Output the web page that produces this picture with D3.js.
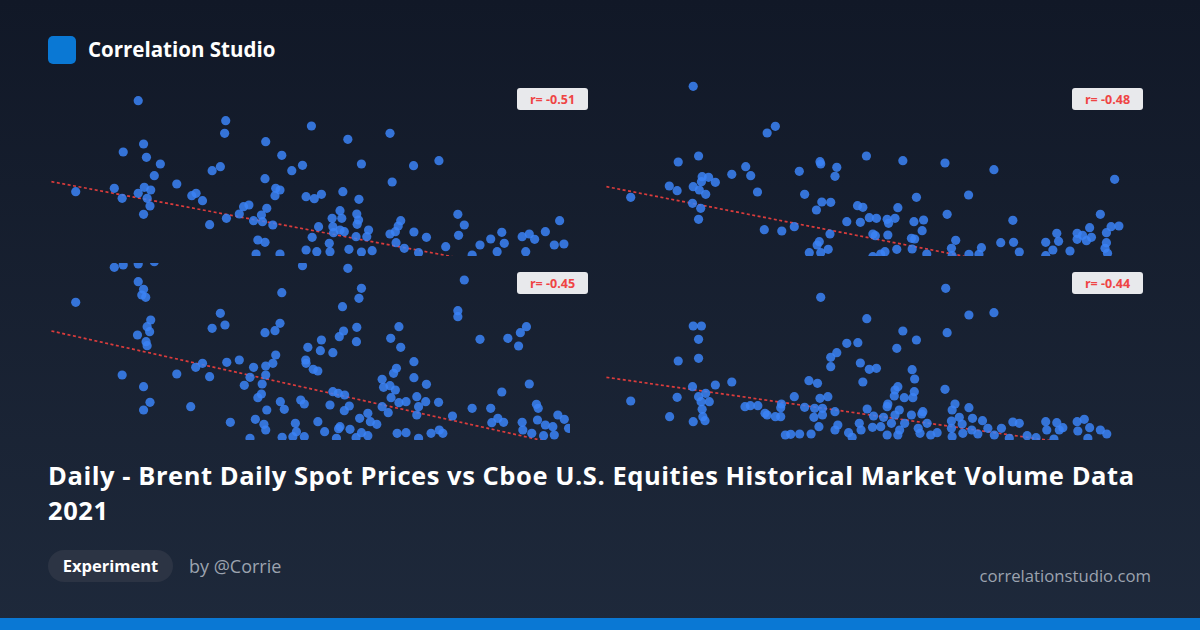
<!DOCTYPE html>
<html><head><meta charset="utf-8">
<script src="https://cdn.jsdelivr.net/npm/d3@7"></script>
<style>body{margin:0;background:#111827}svg{display:block}</style>
</head><body><svg id="c" width="1200" height="630"></svg>
<script>
// Values in picture-read units (x: 0..1568 across panel, y: 0..540 up)
const rValues = [-0.51, -0.48, -0.45, -0.44];
const titleLines = ["Daily - Brent Daily Spot Prices vs Cboe U.S. Equities Historical Market Volume Data","2021"];
const tlPts = [[275,62],[520,122],[517,160],[760,138],[980,160],[862,178],[632,185],[290,192],[233,216],[298,232],[337,252],[677,226],[735,256],[705,272],[900,252],[1046,257],[1117,242],[482,272],[505,260],[320,287],[630,296],[986,306],[383,312],[100,335],[208,325],[275,340],[292,322],[310,330],[230,355],[300,355],[308,378],[290,403],[425,347],[437,340],[455,362],[660,325],[672,330],[658,347],[745,350],[768,356],[788,343],[848,335],[893,358],[570,380],[585,375],[635,385],[558,402],[522,415],[475,434],[620,405],[598,422],[652,435],[623,425],[840,392],[845,415],[818,415],[887,402],[892,420],[888,433],[780,440],[820,440],[840,450],[822,458],[852,455],[762,472],[610,480],[630,487],[1010,422],[1003,438],[995,455],[980,462],[920,450],[915,470],[885,470],[1047,456],[1082,472],[1170,403],[1188,435],[1172,466],[1293,457],[1262,477],[1300,490],[1350,470],[1370,462],[1385,478],[1415,455],[1455,422],[1467,492],[1440,495],[1232,495],[1136,500],[997,488],[1020,505],[930,512],[900,516],[865,508],[810,490],[812,515],[775,515],[745,510],[605,522],[672,522],[1060,518],[1210,525],[1280,515],[1360,515]];
const trPts = [[275,19],[505,139],[482,159],[290,228],[233,246],[630,245],[632,252],[760,228],[862,242],[980,249],[1117,269],[677,262],[672,289],[572,274],[422,260],[436,287],[383,283],[300,290],[318,292],[298,305],[337,307],[208,318],[230,332],[275,320],[292,330],[310,343],[100,352],[455,336],[587,343],[1455,298],[1046,345],[900,352],[848,383],[735,377],[750,382],[635,366],[660,367],[620,390],[273,370],[296,385],[290,418],[986,403],[1415,403],[1170,421],[705,425],[743,427],[768,413],[788,415],[818,418],[822,430],[840,415],[893,425],[920,420],[916,452],[474,449],[523,453],[558,440],[658,462],[778,462],[785,467],[820,465],[886,475],[895,477],[1010,481],[998,505],[1082,503],[1136,488],[1172,487],[1188,516],[1047,523],[1075,523],[929,522],[888,507],[845,508],[812,515],[800,522],[778,530],[628,485],[622,495],[653,508],[632,518],[600,518],[1262,487],[1298,484],[1293,460],[1282,510],[1262,527],[1330,513],[1350,460],[1365,466],[1385,443],[1390,472],[1376,482],[1350,478],[1432,458],[1445,440],[1467,438],[1432,488],[1428,505],[1435,520],[1000,527]];
const blPts = [[208,22],[233,15],[275,12],[320,5],[735,17],[862,25],[1188,60],[275,65],[290,88],[285,105],[296,112],[100,127],[677,98],[900,85],[893,115],[847,140],[1170,152],[1170,170],[505,160],[518,195],[482,205],[310,180],[300,200],[307,215],[273,225],[297,245],[300,257],[630,218],[658,212],[672,190],[850,213],[838,230],[887,202],[886,245],[788,240],[750,262],[785,272],[820,278],[1005,200],[982,235],[1010,262],[1232,238],[1310,235],[1345,218],[1362,200],[1340,258],[660,285],[652,310],[632,318],[598,322],[558,300],[523,307],[455,310],[436,322],[383,342],[230,345],[475,350],[588,352],[572,376],[622,372],[632,345],[744,300],[745,310],[765,328],[778,333],[1047,305],[998,325],[990,340],[958,358],[1047,353],[1082,373],[962,382],[980,377],[995,390],[1370,372],[1293,396],[290,380],[308,427],[290,450],[422,440],[620,402],[610,413],[635,450],[673,425],[684,448],[730,420],[740,432],[812,435],[820,395],[835,400],[853,405],[866,438],[852,452],[983,413],[958,440],[975,458],[1005,428],[1025,425],[1055,410],[1060,440],[1080,425],[1116,427],[1055,465],[1155,468],[1210,445],[1262,445],[1282,475],[1298,487],[1265,488],[1390,433],[1395,445],[1393,480],[1450,465],[1468,478],[1480,505],[1350,487],[1352,510],[1377,520],[1415,495],[1436,500],[1440,525],[1410,527],[895,475],[918,460],[925,485],[943,493],[778,485],[840,500],[868,508],[836,506],[797,515],[715,490],[718,515],[708,530],[740,530],[678,532],[632,510],[627,493],[603,478],[533,487],[588,535],[900,518],[918,527],[1000,520],[1025,518],[1060,535],[1095,520],[1118,510],[1128,520],[830,535],[885,533]];
const brPts = [[632,112],[982,85],[1047,165],[1117,158],[761,176],[275,198],[298,198],[290,238],[290,295],[233,303],[986,218],[862,213],[900,240],[705,250],[736,248],[845,265],[677,278],[660,292],[660,320],[743,309],[768,328],[788,325],[888,329],[895,357],[750,366],[599,362],[623,370],[383,366],[337,375],[273,380],[310,400],[290,410],[297,425],[320,425],[230,412],[100,423],[980,388],[840,390],[848,380],[838,408],[866,413],[890,413],[894,395],[558,410],[630,415],[652,410],[420,440],[435,437],[456,437],[522,432],[520,443],[587,442],[615,445],[637,445],[672,455],[762,447],[820,432],[818,440],[852,450],[840,465],[918,455],[915,462],[886,465],[1008,432],[1000,450],[1047,443],[300,448],[302,470],[308,482],[209,470],[275,485],[476,460],[482,465],[505,470],[520,470],[613,472],[637,465],[780,468],[808,472],[830,490],[867,490],[930,490],[998,483],[1020,472],[1028,492],[1057,475],[1085,482],[1100,505],[1138,505],[1170,486],[1188,490],[1262,485],[1293,488],[1310,503],[1350,485],[1370,478],[1385,503],[1415,510],[1433,522],[1352,513],[1265,510],[1300,510],[627,500],[680,495],[672,510],[740,490],[745,510],[777,502],[800,500],[853,510],[848,525],[905,505],[910,520],[940,525],[958,518],[998,505],[1030,520],[1055,510],[1072,522],[1118,525],[1210,527],[1235,533],[533,525],[548,523],[573,522],[605,522],[710,518],[720,532],[818,525],[1000,530],[1160,535],[1285,537],[1380,535]];
const trends = [[[32,305],[1145,528]],[[32,320],[1030,528]],[[32,213],[1380,535]],[[32,352],[1230,535]]];
const panelOrigins = [[40,80],[595,80],[40,260],[595,260]];
const clips = [[50,80,520,176],[605,80,520,176],[50,263,520,177],[605,263,520,177]];
const allPts = [tlPts,trPts,blPts,brPts];

const svg = d3.select("#c");
const defs = svg.append("defs");
const g = defs.append("linearGradient").attr("id","bg").attr("x1",0).attr("y1",0).attr("x2",0).attr("y2",1);
g.append("stop").attr("offset","0%").attr("stop-color","#111827");
g.append("stop").attr("offset","100%").attr("stop-color","#1e293b");
svg.append("rect").attr("width",1200).attr("height",630).attr("fill","url(#bg)");

allPts.forEach((pts,i)=>{
  const [ox,oy] = panelOrigins[i];
  const x = d3.scaleLinear().domain([0,1568]).range([ox,ox+560]);
  const y = d3.scaleLinear().domain([0,540]).range([oy+180,oy]);
  const c = clips[i];
  defs.append("clipPath").attr("id","cp"+i).append("rect").attr("x",c[0]).attr("y",c[1]).attr("width",c[2]).attr("height",c[3]);
  const p = svg.append("g").attr("clip-path","url(#cp"+i+")");
  const t = trends[i];
  const slope = (t[1][1]-t[0][1])/(t[1][0]-t[0][0]);
  p.append("line").attr("x1",x(t[0][0])).attr("y1",y(540-t[0][1]))
    .attr("x2",x(1568)).attr("y2",y(540-(t[0][1]+slope*(1568-t[0][0]))))
    .attr("stroke","#dc3c3c").attr("stroke-width",1.7).attr("stroke-dasharray","3,2.5");
  p.selectAll("circle").data(pts).join("circle")
    .attr("cx",d=>x(d[0])).attr("cy",d=>y(540-d[1])).attr("r",4.6)
    .attr("fill","#3b82f6").attr("fill-opacity",0.85);
  const bx = ox+477, by = i<2?88:272;
  svg.append("rect").attr("x",bx).attr("y",by).attr("width",71).attr("height",22).attr("rx",3).attr("fill","#e8e9ec");
  svg.append("text").attr("x",bx+35.5).attr("y",by+15.5).attr("text-anchor","middle")
    .attr("font-family","Open Sans").attr("font-weight",700).attr("font-size",12.5).attr("fill","#ef4444")
    .text("r= "+rValues[i].toFixed(2));
});

svg.append("rect").attr("x",48).attr("y",36).attr("width",28).attr("height",28).attr("rx",5).attr("fill","#0a78d4");
svg.append("text").attr("x",88).attr("y",57).attr("font-family","Open Sans").attr("font-weight",700).attr("font-size",20.5).attr("fill","#fff").text("Correlation Studio");
titleLines.forEach((l,i)=>svg.append("text").attr("x",48).attr("y",485+i*35)
  .attr("font-family","Open Sans").attr("font-weight",700).attr("font-size",25.5).attr("letter-spacing",0.55).attr("fill","#fff").text(l));
svg.append("rect").attr("x",48).attr("y",550).attr("width",125).attr("height",32).attr("rx",16).attr("fill","#2c3444");
svg.append("text").attr("x",110.5).attr("y",572).attr("text-anchor","middle").attr("font-family","Open Sans").attr("font-weight",700).attr("font-size",16.5).attr("fill","#fff").text("Experiment");
svg.append("text").attr("x",189).attr("y",573).attr("font-family","Open Sans").attr("font-size",18).attr("fill","#9ca3af").text("by @Corrie");
svg.append("text").attr("x",1151).attr("y",582).attr("text-anchor","end").attr("font-family","Open Sans").attr("font-size",16.7).attr("fill","#9ca3af").text("correlationstudio.com");
svg.append("rect").attr("x",0).attr("y",618).attr("width",1200).attr("height",12).attr("fill","#0a78d4");
</script></body></html>
